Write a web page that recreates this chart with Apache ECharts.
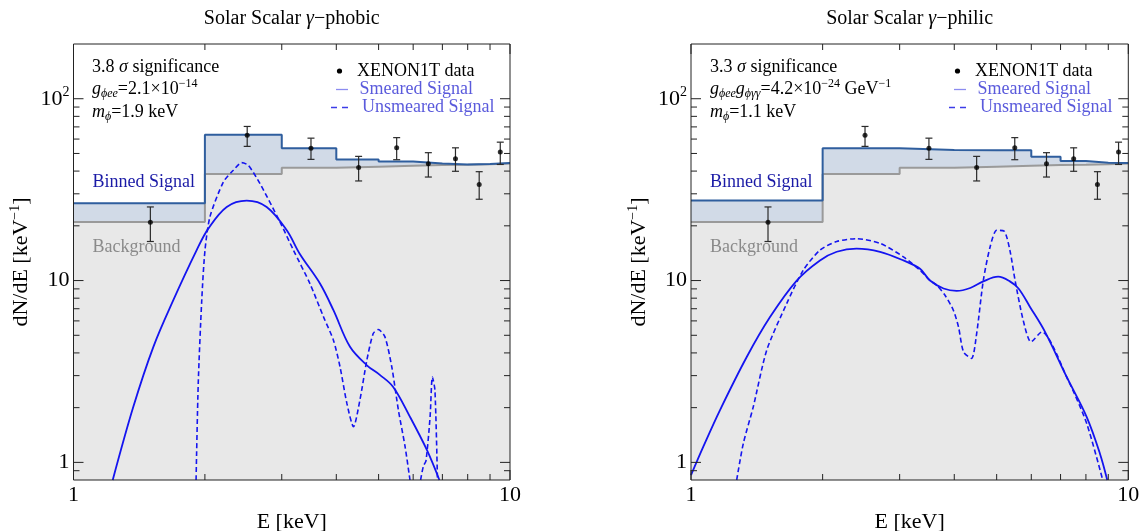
<!DOCTYPE html>
<html><head><meta charset="utf-8">
<script src="https://cdn.jsdelivr.net/npm/echarts@6/dist/echarts.min.js"></script>
<style>html,body{margin:0;padding:0;background:#fff}#c{width:1139px;height:531px}</style>
</head><body><div id="c"></div>
<script>
// ---------------- data ----------------
const binEdges = [1, 2, 3, 4, 5, 6, 7, 8, 9, 10];
const backgroundCounts = [21.0, 38.6, 41.7, 42.3, 42.8, 43.2, 43.4, 43.6, 44.1];
const binnedPhobic = [26.6, 63.4, 53.5, 46.3, 45.1, 44.1, 43.5, 43.8, 44.3];
const binnedPhilic = [27.6, 53.5, 52.3, 52.0, 52.0, 48.0, 45.4, 44.5, 44.3];

const dataE = [1.5, 2.5, 3.5, 4.5, 5.5, 6.5, 7.5, 8.5, 9.5];
const dataN = [20.9, 62.9, 53.5, 41.9, 53.7, 43.9, 46.8, 33.8, 50.9];
const errLow = [16.4, 54.7, 46.4, 35.3, 46.2, 37.1, 39.9, 28.0, 43.5];
const errHigh = [25.4, 70.4, 60.7, 48.2, 61.1, 50.5, 53.7, 39.7, 57.7];

const smearedPhobicE = [1.23, 1.371, 1.524, 1.693, 1.915, 2.036, 2.244, 2.494, 2.77, 3.08, 3.30, 3.67, 3.94, 4.30, 4.70, 5.04, 5.40, 5.90, 6.45, 6.89];
const smearedPhobicN = [0.8, 2.02, 4.32, 7.8, 14.7, 19.3, 25.4, 27.5, 25.4, 18.9, 14.0, 9.63, 6.87, 4.32, 3.42, 3.02, 2.60, 1.78, 1.17, 0.8];

const unsmearedPhobicE = [1.909, 1.931, 1.967, 2.001, 2.054, 2.204, 2.323, 2.428, 2.515, 2.675, 2.972, 3.19, 3.48, 3.74, 3.94, 4.08, 4.23, 4.38, 4.53, 4.70, 4.86, 4.99, 5.17, 5.36, 5.55, 5.75, 5.90, null, 6.24, 6.33, 6.42, 6.56, 6.64, 6.73, 6.82];
const unsmearedPhobicN = [0.8, 2.72, 7.8, 14.7, 22.4, 34.8, 40.4, 44.5, 43.0, 34.1, 21.0, 14.7, 9.63, 6.3, 4.70, 3.35, 2.11, 1.57, 2.20, 3.65, 5.11, 5.38, 4.90, 3.35, 1.94, 1.22, 0.8, null, 0.8, 0.95, 1.02, 1.78, 2.95, 2.50, 0.8];

const smearedPhilicE = [1.0, 1.067, 1.165, 1.341, 1.516, 1.745, 1.972, 2.154, 2.39, 2.706, 3.06, 3.34, 3.52, 3.78, 4.05, 4.35, 4.66, 5.04, 5.36, 5.61, 5.96, 6.45, 7.23, 8.03, 8.61, 8.95];
const smearedPhilicN = [0.85, 1.22, 1.94, 3.80, 6.3, 10.0, 12.9, 14.4, 15.0, 14.4, 12.9, 11.6, 10.0, 9.04, 8.77, 9.1, 9.9, 10.5, 9.9, 9.04, 7.16, 5.22, 2.95, 1.78, 1.12, 0.8];

const unsmearedPhilicE = [1.272, 1.317, 1.388, 1.49, 1.655, 1.806, 1.972, 2.154, 2.39, 2.71, 3.06, 3.34, 3.52, 3.65, 3.81, 3.98, 4.09, 4.20, 4.38, 4.50, 4.66, 4.83, 5.00, 5.20, 5.36, 5.51, 5.75, 5.99, 6.34, 7.30, 8.03, 8.74];
const unsmearedPhilicN = [0.8, 1.27, 2.02, 4.14, 7.47, 11.4, 14.7, 16.4, 17.0, 16.0, 13.5, 11.4, 10.0, 9.42, 8.3, 6.87, 5.56, 4.05, 3.73, 5.11, 10.0, 15.3, 18.9, 18.7, 14.7, 10.0, 6.05, 4.60, 5.22, 2.80, 1.64, 0.8];

const xMajorTicks = [1, 10];
const xMinorTicks = [2, 3, 4, 5, 6, 7, 8, 9];
const yMajorTicks = [1, 10, 100];
const yMinorTicks = [0.9, 2, 3, 4, 5, 6, 7, 8, 9, 20, 30, 40, 50, 60, 70, 80, 90];

const legendNames = ['XENON1T data', 'Smeared Signal', 'Unsmeared Signal'];

const X_MIN = 1, X_MAX = 10, Y_MIN = 0.8, Y_MAX = 200;

// ---------------- style ----------------
const FONT = '"Liberation Serif", "DejaVu Serif", serif';
const CURVE = '#1414f0';
const STEP_BLUE = '#2f5e9e';
const STEP_GRAY = '#9a9a9a';
const FILL_BLUE = '#d1dae7';
const FILL_GRAY = '#e8e8e8';
const LEG_TEXT = '#5a5adc';

const pairs = (xs, ys) => xs.map((x, i) => (x === null ? '-' : [x, ys[i]]));
const stepData = vals => binEdges.map((e, i) => [e, vals[Math.min(i, vals.length - 1)]]);

function tickSeries(gi) {
  const items = [];
  xMajorTicks.forEach(v => items.push([v, Y_MIN, 0]));
  xMinorTicks.forEach(v => items.push([v, Y_MIN, 1]));
  yMajorTicks.forEach(v => items.push([X_MIN, v, 2]));
  yMinorTicks.forEach(v => items.push([X_MIN, v, 3]));
  return {
    type: 'custom', xAxisIndex: gi, yAxisIndex: gi, silent: true, z: 20,
    data: items, encode: { x: 0, y: 1 },
    renderItem(params, api) {
      const kind = api.value(2);
      const len = (kind === 0 || kind === 2) ? 10 : 6;
      let lines;
      if (kind < 2) {
        const v = api.value(0);
        const a = api.coord([v, Y_MIN]), b = api.coord([v, Y_MAX]);
        lines = [[a[0], a[1], a[0], a[1] - len], [b[0], b[1], b[0], b[1] + len]];
      } else {
        const v = api.value(1);
        const a = api.coord([X_MIN, v]), b = api.coord([X_MAX, v]);
        lines = [[a[0], a[1], a[0] + len, a[1]], [b[0], b[1], b[0] - len, b[1]]];
      }
      return { type: 'group', children: lines.map(l => ({
        type: 'line', shape: { x1: l[0], y1: l[1], x2: l[2], y2: l[3] },
        style: { stroke: '#222', lineWidth: 1 } })) };
    }
  };
}

function errorSeries(gi) {
  return {
    type: 'custom', xAxisIndex: gi, yAxisIndex: gi, silent: true, z: 15,
    data: dataE.map((e, i) => [e, errLow[i], errHigh[i]]),
    encode: { x: 0, y: [1, 2] },
    renderItem(params, api) {
      const lo = api.coord([api.value(0), api.value(1)]);
      const hi = api.coord([api.value(0), api.value(2)]);
      const w = 3.5;
      const st = { stroke: '#2a2a2a', lineWidth: 1.2 };
      return { type: 'group', children: [
        { type: 'line', shape: { x1: lo[0], y1: lo[1], x2: hi[0], y2: hi[1] }, style: st },
        { type: 'line', shape: { x1: lo[0] - w, y1: lo[1], x2: lo[0] + w, y2: lo[1] }, style: st },
        { type: 'line', shape: { x1: hi[0] - w, y1: hi[1], x2: hi[0] + w, y2: hi[1] }, style: st }
      ] };
    }
  };
}

function panelSeries(gi, binned, smE, smN, unE, unN) {
  return [
    { name: 'Binned Signal', type: 'line', xAxisIndex: gi, yAxisIndex: gi, step: 'end', symbol: 'none', silent: true, z: 1,
      data: stepData(binned), lineStyle: { width: 0 }, areaStyle: { color: FILL_BLUE, opacity: 1, origin: 'start' } },
    { name: 'Background', type: 'line', xAxisIndex: gi, yAxisIndex: gi, step: 'end', symbol: 'none', silent: true, z: 2,
      data: stepData(backgroundCounts), lineStyle: { color: STEP_GRAY, width: 2 },
      areaStyle: { color: FILL_GRAY, opacity: 1, origin: 'start' } },
    { name: 'Binned Signal', type: 'line', xAxisIndex: gi, yAxisIndex: gi, step: 'end', symbol: 'none', silent: true, z: 3,
      data: stepData(binned), lineStyle: { color: STEP_BLUE, width: 2 } },
    { name: legendNames[1], type: 'line', xAxisIndex: gi, yAxisIndex: gi, symbol: 'none', smooth: 0.35, z: 5,
      data: pairs(smE, smN), lineStyle: { color: CURVE, width: 1.8 }, itemStyle: { color: CURVE } },
    { name: legendNames[2], type: 'line', xAxisIndex: gi, yAxisIndex: gi, symbol: 'none', smooth: 0.25, z: 5,
      data: pairs(unE, unN), connectNulls: false,
      lineStyle: { color: CURVE, width: 1.6, type: [5, 3] }, itemStyle: { color: CURVE } },
    errorSeries(gi),
    { name: legendNames[0], type: 'scatter', xAxisIndex: gi, yAxisIndex: gi, symbol: 'circle', symbolSize: 5, z: 16,
      data: pairs(dataE, dataN), itemStyle: { color: '#000' } },
    tickSeries(gi)
  ];
}

function xAxisFor(gi) {
  return {
    type: 'log', logBase: 10, min: X_MIN, max: X_MAX, gridIndex: gi,
    axisLine: { show: false }, axisTick: { show: false }, splitLine: { show: false },
    axisLabel: {
      margin: 4, color: '#000', fontFamily: FONT, fontSize: 22,
      formatter: v => String(Math.round(v))
    },
    name: 'E [keV]', nameLocation: 'middle', nameGap: 30,
    nameTextStyle: { fontFamily: FONT, fontSize: 22, color: '#000' }
  };
}

function yAxisFor(gi) {
  return {
    type: 'log', logBase: 10, min: Y_MIN, max: Y_MAX, gridIndex: gi,
    axisLine: { show: false }, axisTick: { show: false }, splitLine: { show: false },
    axisLabel: {
      margin: 4, color: '#000', fontFamily: FONT, fontSize: 22,
      formatter: v => {
        const l = Math.log10(v), r = Math.round(l);
        if (Math.abs(l - r) > 1e-6) return '';
        if (r === 2) return '{b|10}{s|2}';
        return String(Math.round(v));
      },
      rich: {
        b: { fontFamily: FONT, fontSize: 22, color: '#000' },
        s: { fontFamily: FONT, fontSize: 14, color: '#000', padding: [0, 0, 12, 0] }
      }
    },
    name: 'dN/dE [keV{s|−1}]', nameLocation: 'middle', nameGap: 39,
    nameTextStyle: {
      fontFamily: FONT, fontSize: 22, color: '#000',
      rich: { s: { fontFamily: FONT, fontSize: 14, color: '#000', padding: [0, 0, 12, 0] } }
    }
  };
}

const richAnno = {
  i: { fontFamily: FONT, fontSize: 18, fontStyle: 'italic', fill: '#000' },
  t: { fontFamily: FONT, fontSize: 20, fontStyle: 'italic', fill: '#000' },
  sub: { fontFamily: FONT, fontSize: 12, fontStyle: 'italic', fill: '#000', padding: [9, 0, 0, 0] },
  sup: { fontFamily: FONT, fontSize: 12, fill: '#000', padding: [0, 0, 10, 0] }
};
function txt(x, y, text, color, align, size) {
  return { type: 'text', x: x, y: y, silent: true, z: 30,
    style: { text: text, fill: color || '#000', fontFamily: FONT, fontSize: size || 18,
      align: align || 'left', verticalAlign: 'middle', rich: richAnno } };
}
function legendGraphics(dx) {
  return [
    { type: 'circle', silent: true, z: 30, shape: { cx: 339.5 + dx, cy: 71, r: 2.6 }, style: { fill: '#000' } },
    { type: 'line', silent: true, z: 30, shape: { x1: 336 + dx, y1: 89.5, x2: 348 + dx, y2: 89.5 },
      style: { stroke: '#8c8cf0', lineWidth: 1.3 } },
    { type: 'line', silent: true, z: 30, shape: { x1: 331 + dx, y1: 107.5, x2: 349 + dx, y2: 107.5 },
      style: { stroke: '#3c3ce8', lineWidth: 1.3, lineDash: [6, 5] } },
    txt(357 + dx, 71, legendNames[0], '#000'),
    txt(359.5 + dx, 89.5, legendNames[1], LEG_TEXT),
    txt(362 + dx, 107.5, legendNames[2], LEG_TEXT)
  ];
}

const grids = [
  { left: 73.5, top: 44, width: 436.5, height: 436 },
  { left: 691, top: 44, width: 437.3, height: 436 }
];

const option = {
  animation: false,
  backgroundColor: '#fff',
  grid: grids.map(g => Object.assign({ show: true, borderColor: '#222', borderWidth: 1,
    backgroundColor: 'transparent', z: 25, containLabel: false, outerBoundsMode: 'none' }, g)),
  xAxis: [xAxisFor(0), xAxisFor(1)],
  yAxis: [yAxisFor(0), yAxisFor(1)],
  series: [].concat(
    panelSeries(0, binnedPhobic, smearedPhobicE, smearedPhobicN, unsmearedPhobicE, unsmearedPhobicN),
    panelSeries(1, binnedPhilic, smearedPhilicE, smearedPhilicN, unsmearedPhilicE, unsmearedPhilicN)
  ),
  graphic: [
    txt(291.75, 19, 'Solar Scalar {t|γ}−phobic', '#000', 'center', 20),
    txt(909.6, 19, 'Solar Scalar {t|γ}−philic', '#000', 'center', 20),
    txt(92, 67, '3.8 {i|σ} significance'),
    txt(92, 89, '{i|g}{sub|ϕee}=2.1×10{sup|−14}'),
    txt(92, 112, '{i|m}{sub|ϕ}=1.9 keV'),
    txt(710, 67, '3.3 {i|σ} significance'),
    txt(710, 89, '{i|g}{sub|ϕee}{i|g}{sub|ϕγγ}=4.2×10{sup|−24} GeV{sup|−1}'),
    txt(710, 112, '{i|m}{sub|ϕ}=1.1 keV'),
    txt(92.5, 182, 'Binned Signal', '#1a1aa6'),
    txt(92.5, 247, 'Background', '#8a8a8a'),
    txt(710, 182, 'Binned Signal', '#1a1aa6'),
    txt(710, 247, 'Background', '#8a8a8a')
  ].concat(legendGraphics(0), legendGraphics(618))
};

const chart = echarts.init(document.getElementById('c'), null, { renderer: 'canvas' });
chart.setOption(option);
</script>
</body></html>
